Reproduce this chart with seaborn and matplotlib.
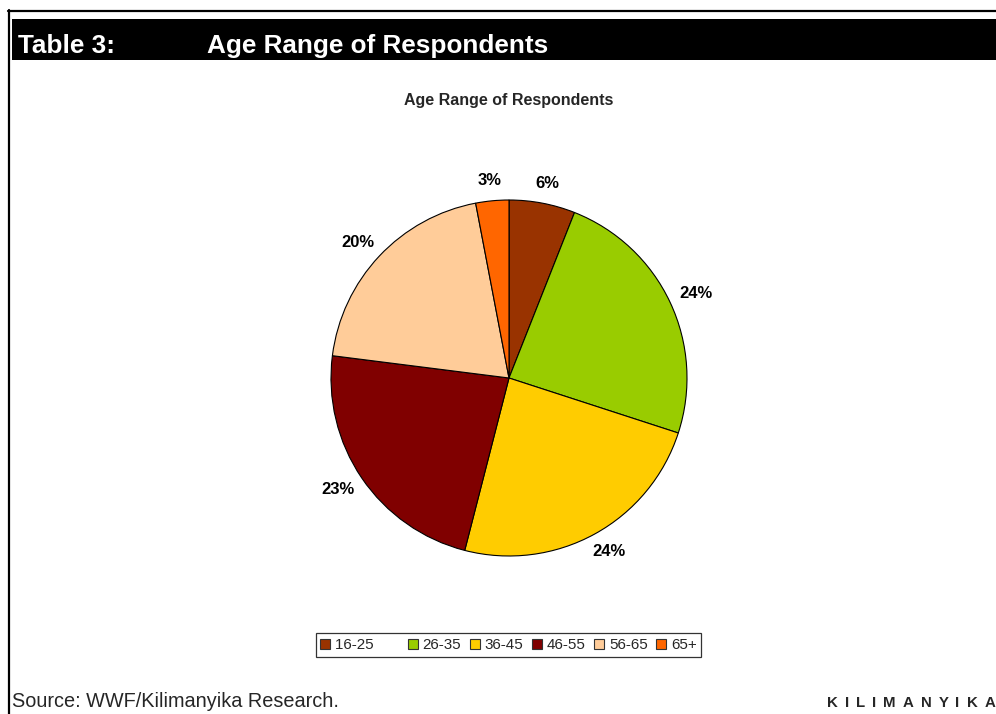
import matplotlib
matplotlib.use("Agg")
import numpy as np
import matplotlib.pyplot as plt
from matplotlib.patches import Rectangle, Patch
from matplotlib.lines import Line2D
import seaborn as sns

# Survey data: share of respondents by age range (%)
age_groups = ["16-25", "26-35", "36-45", "46-55", "56-65", "65+"]
shares = [6, 24, 24, 23, 20, 3]
slice_colors = ["#993300", "#99CC00", "#FFCC00", "#800000", "#FFCC99", "#FF6600"]

header_label = "Table 3:"
header_title = "Age Range of Respondents"
chart_title = "Age Range of Respondents"
source_note = "Source: WWF/Kilimanyika Research."
brand = "KILIMANYIKA"

sns.set_theme(style="white")
plt.rcParams["font.family"] = ["Liberation Sans", "DejaVu Sans"]

W, H = 996, 714
fig = plt.figure(figsize=(W / 100, H / 100), dpi=100)
fig.patch.set_facecolor("white")


def fx(px):
    return px / W


def fy(py):
    return 1 - py / H


# Page frame: top rule and left rule
fig.add_artist(Line2D([fx(8), 1], [fy(11), fy(11)], color="black", lw=1.6,
                      transform=fig.transFigure))
fig.add_artist(Line2D([fx(9), fx(9)], [fy(10), 0], color="black", lw=1.6,
                      transform=fig.transFigure))

# Black header band
fig.add_artist(Rectangle((fx(12), fy(60)), 1 - fx(12), (60 - 19) / H,
                         facecolor="black", edgecolor="none",
                         transform=fig.transFigure))
fig.text(fx(18), fy(53), header_label, color="white", fontsize=18.8,
         fontweight="bold", va="baseline", ha="left")
fig.text(fx(207), fy(53), header_title, color="white", fontsize=18.8,
         fontweight="bold", va="baseline", ha="left")

# Chart title
fig.text(fx(509), fy(100), chart_title, fontsize=11.5, fontweight="bold",
         ha="center", va="center")

# Pie chart
cx, cy, r = 509, 378, 178
half = 1.25 * r
ax = fig.add_axes([fx(cx - half), fy(cy + half), 2 * half / W, 2 * half / H])
palette = sns.color_palette(slice_colors)
wedges, texts, autotexts = ax.pie(
    shares, colors=palette, startangle=90, counterclock=False,
    autopct="%.0f%%", pctdistance=1.12,
    wedgeprops=dict(edgecolor="black", linewidth=0.8),
    textprops=dict(fontsize=12, fontweight="bold", color="black"),
)
ax.set_xlim(-1.25, 1.25)
ax.set_ylim(-1.25, 1.25)
ax.set_aspect("equal")
ax.axis("off")

# Place each percentage label just outside its wedge, pushed out by half its box
fig.canvas.draw()
renderer = fig.canvas.get_renderer()
gap = 1.07  # distance of the label box from the centre, in radii
for w, t in zip(wedges, autotexts):
    theta = np.deg2rad(0.5 * (w.theta1 + w.theta2))
    bb = t.get_window_extent(renderer)
    hw = bb.width / 2 / r
    hh = 0.5 * bb.height / r
    x = (gap + hw) * np.cos(theta)
    y = (gap + hh) * np.sin(theta)
    t.set_position((x, y))
    t.set_ha("center")
    t.set_va("center")

# Legend
handles = [Patch(facecolor=c, edgecolor="#333333", linewidth=0.8) for c in palette]
legend_labels = [age_groups[0] + " " * 6] + age_groups[1:]
leg = fig.legend(handles, legend_labels, loc="center",
                 bbox_to_anchor=(fx(508.5), fy(645)),
                 ncol=6, fontsize=10.9, frameon=True, fancybox=False,
                 edgecolor="black", handlelength=0.66, handleheight=0.66,
                 handletextpad=0.33, columnspacing=0.55, borderpad=0.3,
                 borderaxespad=0)
leg.get_frame().set_linewidth(0.9)

# Footer
fig.text(fx(12), fy(707), source_note, fontsize=14.3, ha="left", va="baseline")

# Letter-spaced brand mark
xpos = 827
tracking = 7.0
for ch in brand:
    t = fig.text(fx(xpos), fy(707), ch, fontsize=10.8, fontweight="bold",
                 ha="left", va="baseline")
    xpos += t.get_window_extent(renderer).width + tracking

fig.savefig("out.png", dpi=100, facecolor="white")
